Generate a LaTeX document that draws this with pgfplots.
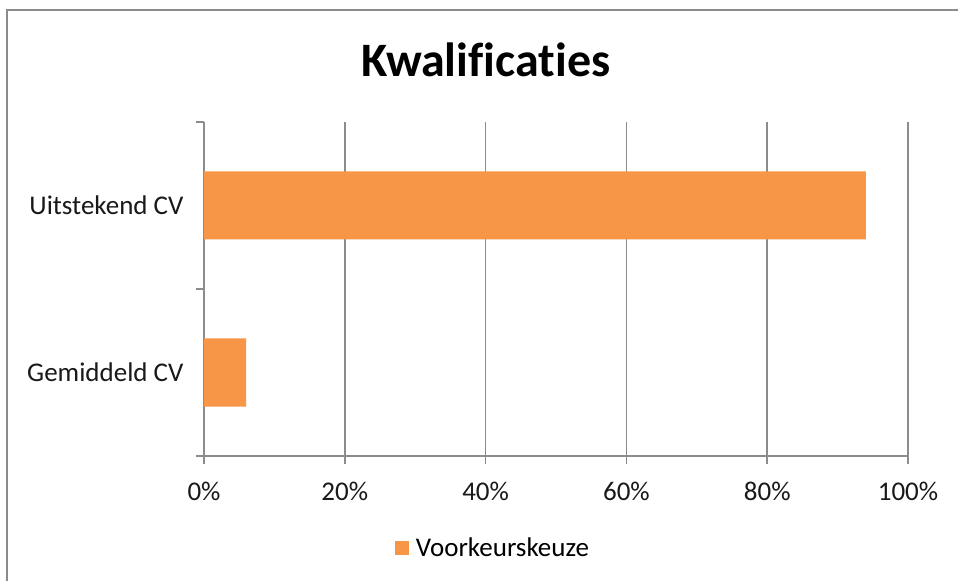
\documentclass[border=0pt]{standalone}
\usepackage{fontspec}
\setmainfont{Carlito}[Ligatures=NoCommon]
\usepackage{pgfplots}
\pgfplotsset{compat=1.18}
\definecolor{barorange}{HTML}{F79646}
\definecolor{gridgray}{HTML}{8C8C8C}
\begin{document}
\begin{tikzpicture}[x=1pt,y=1pt]
\useasboundingbox (0,0) rectangle (958,581);
\fill[white] (0,0) rectangle (958,581);
\draw[color=gridgray, line width=2pt] (7,0) -- (7,571) -- (958,571);
\node[font=\fontsize{48}{56}\selectfont\bfseries, anchor=base] at (486,504) {Kwalificaties};
\begin{axis}[
  at={(204pt,125pt)}, anchor=south west,
  scale only axis, width=704pt, height=334pt,
  xbar, bar width=68pt,
  xmin=0, xmax=1, ymin=-0.5, ymax=1.5,
  axis x line*=bottom, axis y line*=left,
  axis line style={-, gridgray, line width=1.5pt},
  xtick={0,0.2,0.4,0.6,0.8,1},
  xticklabels={0\%,20\%,40\%,60\%,80\%,100\%},
  xticklabel style={yshift=-15pt},
  xmajorgrids, grid style={gridgray, line width=1.5pt},
  ytick={-0.5,0.5,1.5}, yticklabels={},
  extra y ticks={0,1},
  extra y tick labels={Gemiddeld CV,Uitstekend CV},
  extra y tick style={major tick length=0pt, grid=none,
    yticklabel style={xshift=-17pt}},
  tick align=outside, major tick length=8pt,
  tick style={gridgray, line width=1.5pt},
  ticklabel style={font=\fontsize{27}{32}\selectfont, text=black!90},
  legend style={at={(0.4105,-0.2754)}, anchor=center, draw=none, fill=none,
    font=\fontsize{27}{32}\selectfont, legend cell align=left,
    /tikz/every odd column/.append style={column sep=5pt}},
]
  \addplot[fill=barorange, draw=none,
    legend image code/.code={\fill[barorange] (-2pt,-7pt) rectangle (12pt,7pt);}]
    coordinates {(0.06,0) (0.94,1)};
  \addlegendentry{Voorkeurskeuze}
\end{axis}
\end{tikzpicture}
\end{document}
